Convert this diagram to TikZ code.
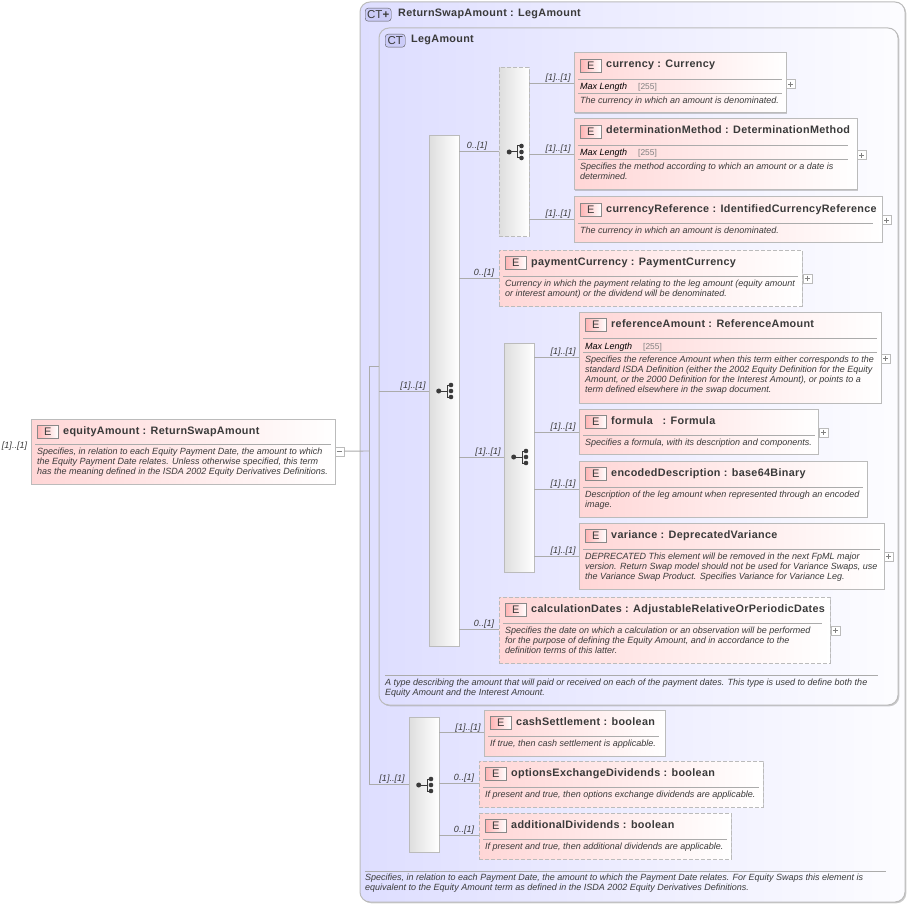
\documentclass[tikz,border=0pt]{standalone}
\usepackage{fontspec}
\setmainfont{Liberation Sans}
\newfontfamily\titlefont[LetterSpace=3,Scale=1]{Liberation Sans Bold}
\usetikzlibrary{shadows}
\definecolor{edge gray}{HTML}{BBBBBB}
\definecolor{line gray}{HTML}{ABABAB}
\definecolor{ink}{HTML}{3A3A3A}
\definecolor{box pink}{HTML}{FFD6D6}
\definecolor{box lav}{HTML}{DEDEFF}
\definecolor{badge blue}{HTML}{CCCCF8}
\newcommand{\elembox}[7]{
  \node[#2,minimum width=#5pt,minimum height=#6pt] (#1) at (#3,#4) {};
  \node[e badge] (#1 badge) at ([xshift=6pt,yshift=-6pt]#1.north west) {E};
  \node[elem title] (#1 title) at ([xshift=32pt,yshift=-15pt]#1.north west) {#7};
}
\newcommand{\groupicon}[2]{
  \fill[ink] (#1,#2) ++(-5.3,0) circle (2.5);
  \draw[ink,line width=1pt] (#1,#2) ++(-5.3,0) -- ++(8.3,0) (#1,#2) ++(7,-6) -| ++(-4,12) -- ++(4,0);
  \fill[ink] (#1,#2) ++(7,-6) circle (2.3) ++(0,6) circle (2.3) ++(0,6) circle (2.3);
}
\begin{document}
\begin{tikzpicture}[x=1pt,y=-1pt]
  \tikzset{
    ct box/.style={draw=edge gray,line width=1pt,rounded corners=10pt,anchor=north west,inner sep=0,outer sep=0,left color=box lav,right color=white!92!box lav,drop shadow={shadow xshift=1.3pt,shadow yshift=-1.3pt,opacity=0.4}},
    ct badge/.style={draw=ink!85,rounded corners=3pt,fill=badge blue,font=\fontsize{11.5}{12}\selectfont,text=ink,inner sep=0,minimum height=13pt,anchor=north west},
    ct title/.style={anchor=base west,font=\titlefont\fontsize{10.8}{12}\selectfont,text=ink,inner sep=0},
    elem/.style={draw=edge gray,line width=1pt,anchor=north west,inner sep=0,outer sep=0,left color=box pink,right color=white,drop shadow={shadow xshift=1.3pt,shadow yshift=-1.3pt,opacity=0.4}},
    elem opt/.style={elem,dashed,dash pattern=on 4pt off 2pt},
    e badge/.style={draw=ink!60,left color=box pink!75!red!80!white,right color=white,font=\fontsize{11}{12}\selectfont,text=ink,inner sep=0,minimum width=21pt,minimum height=13pt,anchor=north west},
    elem title/.style={anchor=base west,font=\titlefont\fontsize{10.8}{12}\selectfont,text=ink,inner sep=0},
    desc/.style={anchor=north west,align=left,font=\fontsize{9}{10}\itshape\selectfont,text=ink,inner sep=0},
    facet/.style={anchor=base west,font=\fontsize{9}{10}\itshape\selectfont,text=black,inner sep=0},
    facet value/.style={anchor=base west,font=\fontsize{8.4}{10}\selectfont,text=gray,inner sep=0},
    occurs/.style={anchor=base,font=\fontsize{9}{10}\itshape\selectfont,text=ink,inner sep=0},
    seq box/.style={draw=edge gray,line width=1pt,anchor=north west,inner sep=0,outer sep=0,left color=black!13,right color=white,drop shadow={shadow xshift=1.3pt,shadow yshift=-1.3pt,opacity=0.4}},
    seq opt/.style={seq box,dashed,dash pattern=on 4pt off 2pt},
    conn/.style={draw=line gray,line width=0.9pt},
    rule/.style={draw=line gray,line width=0.9pt},
    expander/.style={draw=edge gray,fill=white,inner sep=0,minimum size=9pt,anchor=north west},
    plus/.style={expander,path picture={\draw[gray,line width=0.5pt] (path picture bounding box.north)++(0,-2pt) -- ++(0,-5pt) (path picture bounding box.west)++(2pt,0) -- ++(5pt,0);}},
    minus/.style={expander,path picture={\draw[gray,line width=0.5pt] (path picture bounding box.west)++(2pt,0) -- ++(5pt,0);}}
  }
  \useasboundingbox (0,0) rectangle (910,904);

  % complex types
  \node[ct box,minimum width=545pt,minimum height=900pt] (swap) at (360,2) {};
  \node[ct badge,minimum width=26pt] (swap badge) at (365,8) {CT{\bfseries+}};
  \node[ct title] (swap title) at (398,17) {ReturnSwapAmount : LegAmount};
  \node[ct box,minimum width=519pt,minimum height=677pt] (leg) at (379,28) {};
  \node[ct badge,minimum width=20pt] (leg badge) at (385,34) {CT};
  \node[ct title] (leg title) at (411,43) {LegAmount};
  \draw[rule] (385,675) -- (878,675);
  \node[desc] (leg desc) at (385,679) {A type describing the amount that will paid or received on each of the payment dates. This type is used to define both the\\Equity Amount and the Interest Amount.};
  \draw[rule] (365,871) -- (886,871);
  \node[desc] (swap desc) at (365,874) {Specifies, in relation to each Payment Date, the amount to which the Payment Date relates. For Equity Swaps this element is\\equivalent to the Equity Amount term as defined in the ISDA 2002 Equity Derivatives Definitions.};

  % groups
  \node[seq box,minimum width=30pt,minimum height=510pt] (seq main) at (429,136) {};
  \node[seq opt,minimum width=30pt,minimum height=168pt] (choice) at (499,68) {};
  \node[seq box,minimum width=30pt,minimum height=229pt] (seq ref) at (504,343) {};
  \node[seq box,minimum width=30pt,minimum height=135pt] (seq flags) at (409,717) {};
  \groupicon{444}{391}
  \groupicon{514.5}{152}
  \groupicon{519}{457}
  \groupicon{424}{785}

  % elements
  \elembox{equity}{elem}{31}{419}{304}{65}{equityAmount : ReturnSwapAmount}
  \draw[rule] (35,444) -- (331,444);
  \node[desc] (equity desc) at (37,448) {Specifies, in relation to each Equity Payment Date, the amount to which\\the Equity Payment Date relates. Unless otherwise specified, this term\\has the meaning defined in the ISDA 2002 Equity Derivatives Definitions.};
  \node[minus] (equity exp) at (334.5,446.5) {};

  \elembox{currency}{elem}{574}{53}{212}{60}{currency : Currency}
  \draw[rule] (578,79) -- (782,79) (578,93) -- (782,93);
  \node[facet] (currency facet) at (580,90) {Max Length};
  \node[facet value] (currency len) at (638,90) {[255]};
  \node[desc] (currency desc) at (580,97) {The currency in which an amount is denominated.};
  \node[plus] (currency exp) at (786,79.5) {};

  \elembox{method}{elem}{574}{119}{283}{71}{determinationMethod : DeterminationMethod}
  \draw[rule] (578,145) -- (848,145) (578,159) -- (848,159);
  \node[facet] (method facet) at (580,156) {Max Length};
  \node[facet value] (method len) at (638,156) {[255]};
  \node[desc] (method desc) at (580,163) {Specifies the method according to which an amount or a date is\\determined.};
  \node[plus] (method exp) at (857,150.5) {};

  \elembox{curref}{elem}{574}{197}{308}{45}{currencyReference : IdentifiedCurrencyReference}
  \draw[rule] (578,223) -- (873,223);
  \node[desc] (curref desc) at (580,227) {The currency in which an amount is denominated.};
  \node[plus] (curref exp) at (882,215.5) {};

  \elembox{payment}{elem opt}{499}{250}{303}{56}{paymentCurrency : PaymentCurrency}
  \draw[rule] (503,276) -- (798,276);
  \node[desc] (payment desc) at (505,280) {Currency in which the payment relating to the leg amount (equity amount\\or interest amount) or the dividend will be denominated.};
  \node[plus] (payment exp) at (802.5,273.5) {};

  \elembox{refamt}{elem}{579}{312}{302}{91}{referenceAmount : ReferenceAmount}
  \draw[rule] (583,338) -- (877,338) (583,352) -- (877,352);
  \node[facet] (refamt facet) at (585,349) {Max Length};
  \node[facet value] (refamt len) at (643,349) {[255]};
  \node[desc] (refamt desc) at (585,356) {Specifies the reference Amount when this term either corresponds to the\\standard ISDA Definition (either the 2002 Equity Definition for the Equity\\Amount, or the 2000 Definition for the Interest Amount), or points to a\\term defined elsewhere in the swap document.};
  \node[plus] (refamt exp) at (881,353.5) {};

  \elembox{formula}{elem}{579}{409}{239}{45}{formula\ \ \ : Formula}
  \draw[rule] (583,435) -- (815,435);
  \node[desc] (formula desc) at (585,438.5) {Specifies a formula, with its description and components.};
  \node[plus] (formula exp) at (819,427.5) {};

  \elembox{encoded}{elem}{579}{461}{288}{56}{encodedDescription : base64Binary}
  \draw[rule] (583,487) -- (863,487);
  \node[desc] (encoded desc) at (585,491) {Description of the leg amount when represented through an encoded\\image.};

  \elembox{variance}{elem}{579}{523}{305}{66}{variance : DeprecatedVariance}
  \draw[rule] (583,549) -- (880,549);
  \node[desc] (variance desc) at (585,552.5) {DEPRECATED This element will be removed in the next FpML major\\version. Return Swap model should not be used for Variance Swaps, use\\the Variance Swap Product. Specifies Variance for Variance Leg.};
  \node[plus] (variance exp) at (884,551.5) {};

  \elembox{dates}{elem opt}{499}{597}{331}{66}{calculationDates : AdjustableRelativeOrPeriodicDates}
  \draw[rule] (503,623) -- (822,623);
  \node[desc] (dates desc) at (505,627) {Specifies the date on which a calculation or an observation will be performed\\for the purpose of defining the Equity Amount, and in accordance to the\\definition terms of this latter.};
  \node[plus] (dates exp) at (830.5,625.5) {};

  \elembox{cash}{elem}{484}{710}{181}{46}{cashSettlement : boolean}
  \draw[rule] (488,736) -- (659,736);
  \node[desc] (cash desc) at (490,740) {If true, then cash settlement is applicable.};

  \elembox{options}{elem opt}{479}{761}{284}{46}{optionsExchangeDividends : boolean}
  \draw[rule] (483,787) -- (759,787);
  \node[desc] (options desc) at (485,791) {If present and true, then options exchange dividends are applicable.};

  \elembox{divs}{elem opt}{479}{813}{252}{46}{additionalDividends : boolean}
  \draw[rule] (483,839) -- (727,839);
  \node[desc] (divs desc) at (485,842.5) {If present and true, then additional dividends are applicable.};

  % connectors
  \coordinate (trunk top) at (369,366);
  \coordinate (trunk low) at (369,784);
  \coordinate (trunk mid) at (369,451);
  \draw[conn] (equity exp.east) -- (trunk mid);
  \draw[conn] (leg.west |- trunk top) -- (trunk top) -- (trunk low) -- (seq flags.west |- trunk low);
  \draw[conn] (leg.west |- 0,391) -- (seq main.west |- 0,391);
  \draw[conn] (seq main.east |- 0,151) -- (choice.west |- 0,151);
  \draw[conn] (seq main.east |- 0,278) -- (payment.west |- 0,278);
  \draw[conn] (seq main.east |- 0,457) -- (seq ref.west |- 0,457);
  \draw[conn] (seq main.east |- 0,629) -- (dates.west |- 0,629);
  \draw[conn] (choice.east |- 0,83) -- (currency.west |- 0,83);
  \draw[conn] (choice.east |- 0,154) -- (method.west |- 0,154);
  \draw[conn] (choice.east |- 0,219) -- (curref.west |- 0,219);
  \draw[conn] (seq ref.east |- 0,357) -- (refamt.west |- 0,357);
  \draw[conn] (seq ref.east |- 0,432) -- (formula.west |- 0,432);
  \draw[conn] (seq ref.east |- 0,489) -- (encoded.west |- 0,489);
  \draw[conn] (seq ref.east |- 0,556) -- (variance.west |- 0,556);
  \draw[conn] (seq flags.east |- 0,732) -- (cash.west |- 0,732);
  \draw[conn] (seq flags.east |- 0,783) -- (options.west |- 0,783);
  \draw[conn] (seq flags.east |- 0,835) -- (divs.west |- 0,835);

  % occurrences
  \node[occurs] (occ equity) at (14.5,448.5) {[1]..[1]};
  \node[occurs] (occ seq main) at (413,388.5) {[1]..[1]};
  \node[occurs] (occ flags) at (392,781.5) {[1]..[1]};
  \node[occurs] (occ choice) at (477,148.5) {0..[1]};
  \node[occurs] (occ payment) at (484,275.5) {0..[1]};
  \node[occurs] (occ seq ref) at (488,454.5) {[1]..[1]};
  \node[occurs] (occ dates) at (484,626.5) {0..[1]};
  \node[occurs] (occ currency) at (558,80.5) {[1]..[1]};
  \node[occurs] (occ method) at (558,151.5) {[1]..[1]};
  \node[occurs] (occ curref) at (558,216.5) {[1]..[1]};
  \node[occurs] (occ refamt) at (563,354.5) {[1]..[1]};
  \node[occurs] (occ formula) at (563,429.5) {[1]..[1]};
  \node[occurs] (occ encoded) at (563,486.5) {[1]..[1]};
  \node[occurs] (occ variance) at (563,553.5) {[1]..[1]};
  \node[occurs] (occ cash) at (468,730.5) {[1]..[1]};
  \node[occurs] (occ options) at (464,780.5) {0..[1]};
  \node[occurs] (occ divs) at (464,832.5) {0..[1]};
\end{tikzpicture}
\end{document}
